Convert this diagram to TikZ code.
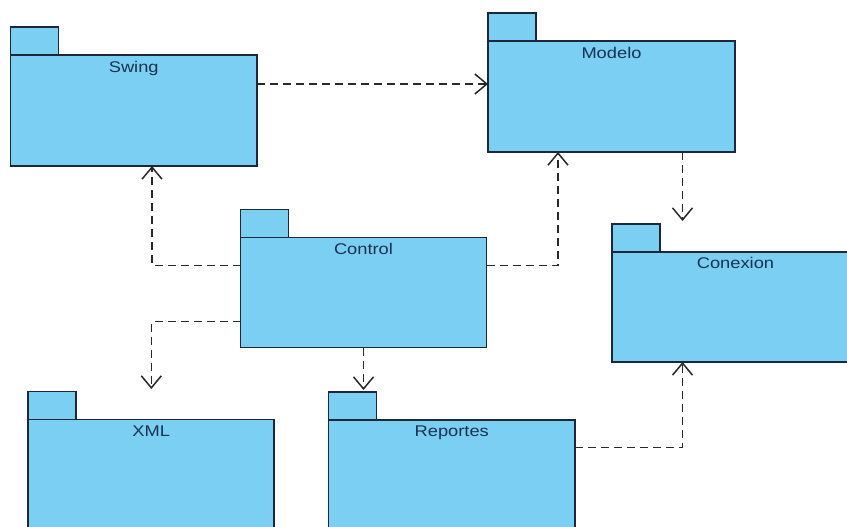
\documentclass[tikz,border=0pt]{standalone}
\usepackage{fontspec}
\setmainfont[FakeStretch=1.18]{Liberation Sans}
\usetikzlibrary{arrows.meta}
\definecolor{pkgfill}{RGB}{123,207,242}
\definecolor{pkgline}{RGB}{28,40,56}
\definecolor{pkgtext}{RGB}{26,50,80}
\definecolor{depline}{RGB}{40,40,40}
\begin{document}
\begin{tikzpicture}[x=1pt,y=-1pt,
  pkgbody/.style={draw=pkgline, fill=pkgfill, line width=1.7pt, minimum width=246pt, minimum height=110pt, inner sep=0pt, outer sep=0pt},
  pkgtab/.style={draw=pkgline, fill=pkgfill, line width=1.7pt, minimum width=48pt, minimum height=28pt, inner sep=0pt, outer sep=0pt, anchor=south west},
  pkglabel/.style={text=pkgtext, font=\fontsize{15.5}{17}\selectfont, anchor=north, inner sep=0pt},
  dep/.style={draw=depline, line width=1.5pt, dash pattern=on 8pt off 5pt, -{Straight Barb[length=12pt,width=20pt,line width=1.5pt]}}
]
\useasboundingbox (0,0) rectangle (847,527);
\clip (0,0) rectangle (847,527);
\fill[white] (0,0) rectangle (847,527);

% packages
\node[pkgbody, minimum width=246.5pt, minimum height=111pt] (swing) at (133.75,110.5) {};
\node[pkgtab] (swingtab) at (swing.north west) {};
\node[pkglabel] (swinglbl) at ([yshift=-6pt]swing.north) {Swing};

\node[pkgbody, minimum width=247pt, minimum height=111pt] (modelo) at (611.5,96.5) {};
\node[pkgtab] (modelotab) at (modelo.north west) {};
\node[pkglabel] (modelolbl) at ([yshift=-6pt]modelo.north) {Modelo};

\node[pkgbody] (control) at (363.5,292.5) {};
\node[pkgtab] (controltab) at (control.north west) {};
\node[pkglabel] (controllbl) at ([yshift=-5.5pt]control.north) {Control};

\node[pkgbody, minimum width=247pt] (conexion) at (735.5,307) {};
\node[pkgtab] (conexiontab) at (conexion.north west) {};
\node[pkglabel] (conexionlbl) at ([yshift=-5.5pt]conexion.north) {Conexion};

\node[pkgbody] (xml) at (151.3,474.5) {};
\node[pkgtab] (xmltab) at (xml.north west) {};
\node[pkglabel] (xmllbl) at ([yshift=-6pt]xml.north) {XML};

\node[pkgbody, minimum width=246.5pt] (reportes) at (451.75,475) {};
\node[pkgtab] (reportestab) at (reportes.north west) {};
\node[pkglabel] (reporteslbl) at ([yshift=-5.5pt]reportes.north) {Reportes};

% dependencies
\draw[dep] ([yshift=26.5pt]swing.east) -- ([yshift=12.5pt]modelo.west);
\draw[dep] ([yshift=27pt]control.west) -| ([xshift=18.25pt]swing.south);
\draw[dep] ([yshift=27pt]control.east) -| ([xshift=-53.5pt]modelo.south);
\coordinate (m1) at ([xshift=71pt]modelo.south);
\draw[dep, shorten >=3pt] (m1) -- (m1 |- conexiontab.north);
\draw[dep, shorten >=2.5pt] ([yshift=-29.2pt]control.west) -| (xml.north |- xmltab.north);
\draw[dep, shorten >=2pt] (control.south) -- (control.south |- reportestab.north);
\draw[dep] ([yshift=27.5pt]reportes.east) -| ([xshift=-53pt]conexion.south);
\end{tikzpicture}
\end{document}
